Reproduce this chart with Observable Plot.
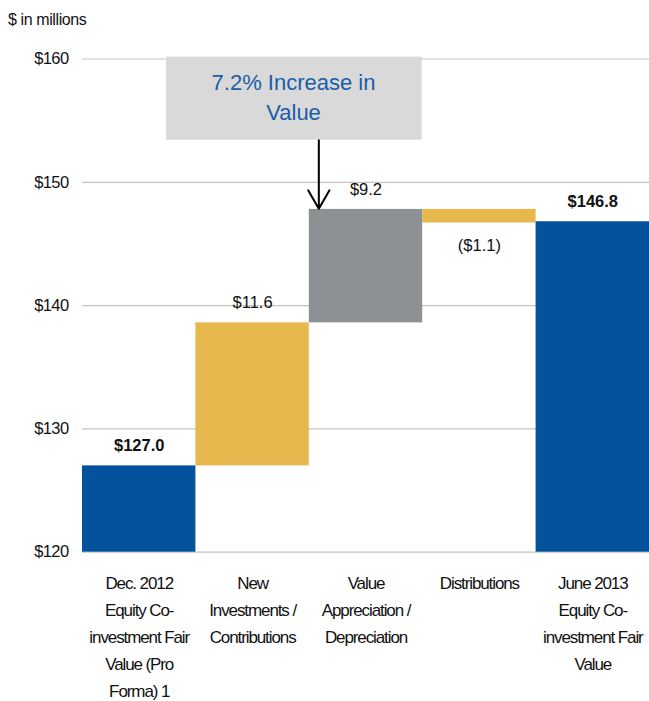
<!DOCTYPE html>
<html>
<head>
<meta charset="utf-8">
<script src="https://cdn.jsdelivr.net/npm/d3@7"></script>
<script src="https://cdn.jsdelivr.net/npm/@observablehq/plot@0.6"></script>
<style>
  html, body { margin: 0; padding: 0; background: #fff; }
  #wrap { position: relative; width: 649px; height: 701px; }
  #title { position: absolute; left: 8px; top: 11px; font: 16px "Liberation Sans", Arial, sans-serif; letter-spacing: -0.4px; color: #111; }
  .cat text { letter-spacing: -1.1px; }
  .ytk text { letter-spacing: -0.6px; }
</style>
</head>
<body>
<div id="wrap"><div id="title">$ in millions</div></div>
<script>
const categories = [
  "Dec. 2012\nEquity Co-\ninvestment Fair\nValue (Pro\nForma) 1",
  "New\nInvestments /\nContributions",
  "Value\nAppreciation /\nDepreciation",
  "Distributions",
  "June 2013\nEquity Co-\ninvestment Fair\nValue"
];
const barStart = [120, 127.0, 138.6, 147.8, 120];
const barEnd = [127.0, 138.6, 147.8, 146.7, 146.8];
const barKind = ["total", "change", "valuation", "change", "total"];
const valueLabels = ["$127.0", "$11.6", "$9.2", "($1.1)", "$146.8"];
const yTicks = [120, 130, 140, 150, 160];
const yTickLabels = ["$120", "$130", "$140", "$150", "$160"];
const calloutText = "7.2% Increase in\nValue";

const rows = categories.map((c, i) => ({
  i, label: c, y1: barStart[i], y2: barEnd[i], kind: barKind[i], text: valueLabels[i],
  top: Math.max(barStart[i], barEnd[i]), bottom: Math.min(barStart[i], barEnd[i]),
  down: barEnd[i] < barStart[i]
}));

const FONT = '"Liberation Sans", Arial, sans-serif';

const chart = Plot.plot({
  width: 649,
  height: 701,
  marginLeft: 82,
  marginRight: 0,
  marginTop: 58.5,
  marginBottom: 149.3,
  style: { fontFamily: FONT, fontSize: "16px", color: "#111", background: "#fff" },
  x: { type: "linear", domain: [0, 5], axis: null },
  y: { domain: [120, 160], axis: null },
  color: { domain: ["total", "change", "valuation"], range: ["#03529B", "#E6B84E", "#8E9194"] },
  marks: [
    Plot.ruleY(yTicks, { stroke: "#c4c4c4", strokeWidth: 1.2 }),
    Plot.axisY({ ticks: yTicks, tickFormat: (d) => yTickLabels[yTicks.indexOf(d)], tickSize: 0, tickPadding: 14, fontSize: 16.5, className: "ytk" }),
    Plot.axisX({
      ticks: categories.map((_, i) => i + 0.5),
      tickFormat: (d) => categories[Math.round(d - 0.5)],
      tickSize: 0, tickPadding: 18, lineHeight: 1.59, fontSize: 17, className: "cat"
    }),
    Plot.rect(rows, { x1: (d) => d.i, x2: (d) => d.i + 1, y1: "y1", y2: "y2", fill: "kind" }),
    Plot.text(rows.filter((d) => !d.down && d.kind === "total"), {
      x: (d) => d.i + 0.5, y: "top", text: "text", dy: -20, lineAnchor: "middle",
      fontWeight: "bold", fontSize: 16.5, fill: "#111"
    }),
    Plot.text(rows.filter((d) => !d.down && d.kind !== "total"), {
      x: (d) => d.i + 0.5, y: "top", text: "text", dy: -20, lineAnchor: "middle",
      fontSize: 16.5, fill: "#111"
    }),
    Plot.text(rows.filter((d) => d.down), {
      x: (d) => d.i + 0.5, y: "bottom", text: "text", dy: 23, lineAnchor: "middle", fontSize: 16.5, fill: "#111"
    }),
    Plot.rect([0], { x1: 0.741, x2: 2.996, y1: 153.42, y2: 160.15, fill: "#D9D9D9" }),
    Plot.text([calloutText], {
      x: 1.861, y: 157.02, text: (d) => d, lineAnchor: "middle", lineHeight: 1.36,
      fontSize: 22, fill: "#1A5EA6"
    }),
    Plot.arrow([0], {
      x1: 2.084, x2: 2.084, y1: 153.42, y2: 147.85, stroke: "#000", strokeWidth: 2, headLength: 16
    })
  ]
});
document.getElementById("wrap").appendChild(chart);
</script>
</body>
</html>
